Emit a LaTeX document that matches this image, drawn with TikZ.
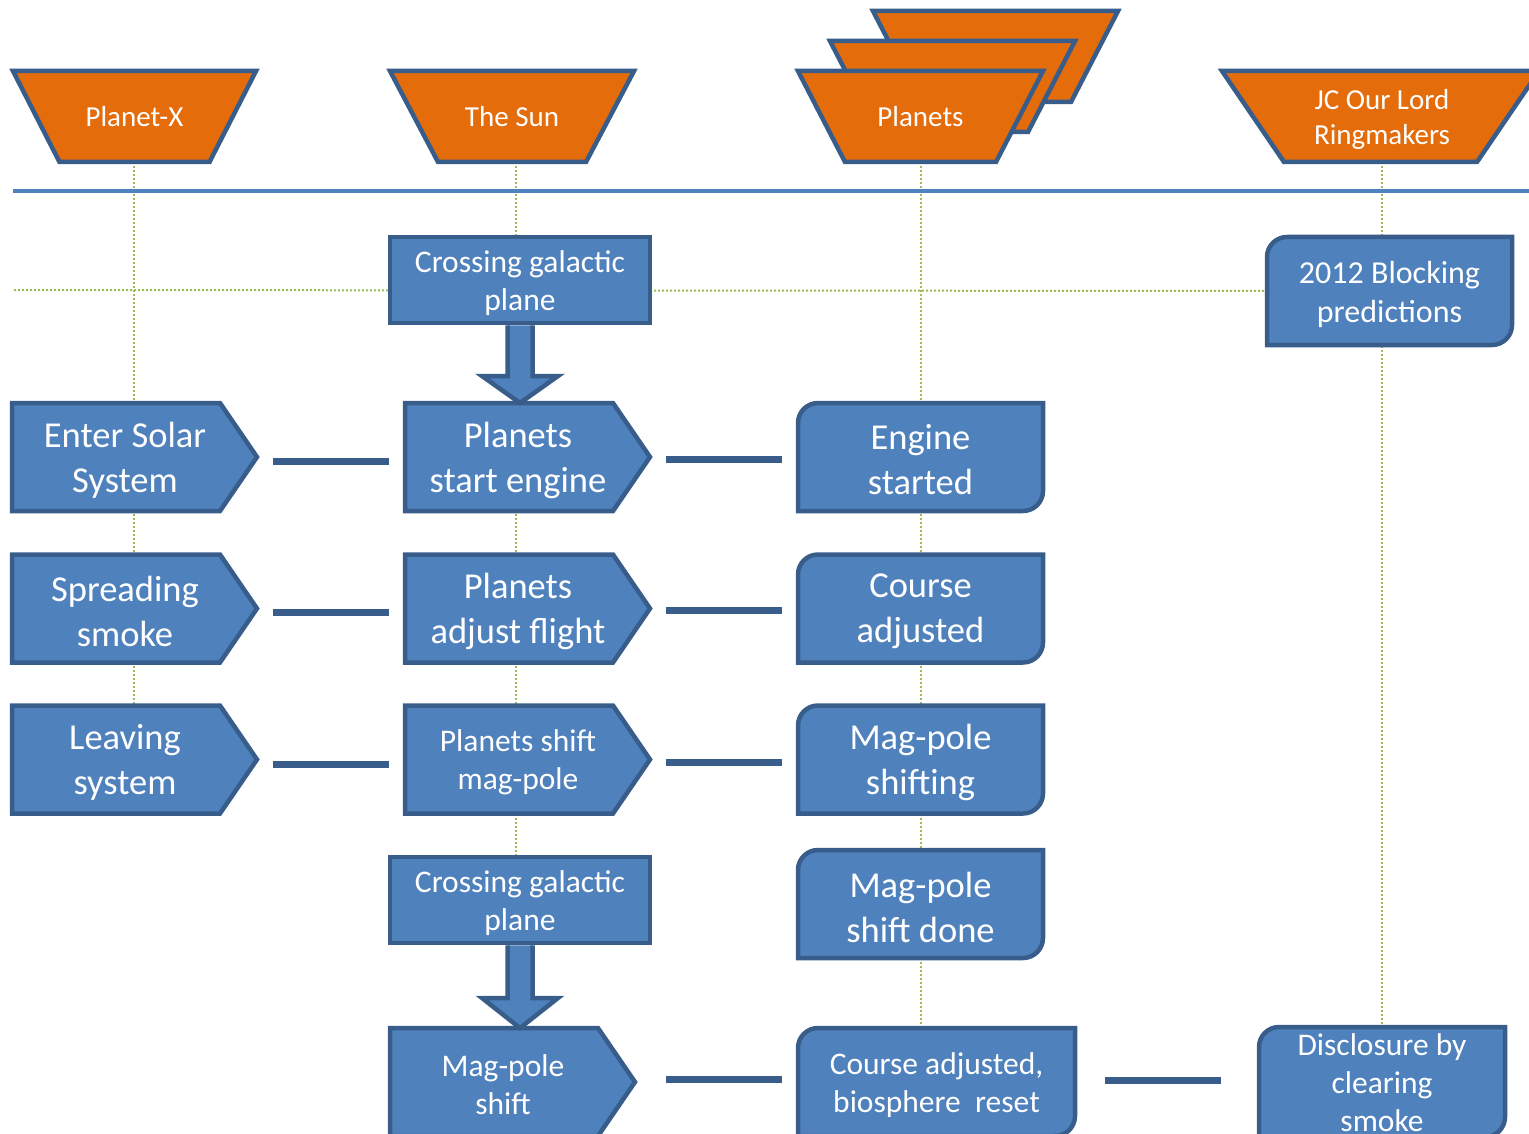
\documentclass[tikz,border=0pt]{standalone}
\usepackage{fontspec}
\setmainfont{Carlito}
\usetikzlibrary{calc,backgrounds}
\definecolor{boxblue}{HTML}{4F81BD}
\definecolor{edgeblue}{HTML}{385D8A}
\definecolor{hdrorange}{HTML}{E46C0A}
\definecolor{lanegreen}{HTML}{9BBB59}
\tikzset{
  shp/.style={fill=boxblue, draw=edgeblue, line width=4.5pt},
  hdrshp/.style={fill=hdrorange, draw=edgeblue, line width=4.5pt},
  area/.style={draw=none, inner sep=0pt, outer sep=0pt},
  bigf/.style={text=white, align=center, inner sep=0pt, yshift=-3pt, font=\fontsize{36.5}{45}\selectfont},
  midf/.style={text=white, align=center, inner sep=0pt, yshift=-3pt, font=\fontsize{31.5}{38}\selectfont},
  hdrf/.style={text=white, align=center, inner sep=0pt, font=\fontsize{29}{35}\selectfont},
  conn/.style={draw=edgeblue, line width=7pt},
  lane/.style={draw=lanegreen, line width=2pt, dash pattern=on 2pt off 2pt},
  rulel/.style={draw=boxblue, line width=4pt}
}
% pentagon (arrow) box: name, cx, cy, width, text style, text
\newcommand\pentbox[6]{%
  \node[area, minimum width=#4pt, minimum height=108pt] (#1) at (#2,#3) {};
  \draw[shp] (#1.north west) -- ([xshift=-37pt]#1.north east) -- (#1.east)
     -- ([xshift=-37pt]#1.south east) -- (#1.south west) -- cycle;
  \node[#5] (#1-t) at (#1.center) {#6};
}
% rounded-diagonal box: name, cx, cy, width, height, text style, text
\newcommand\rrbox[7]{%
  \node[area, minimum width=#4pt, minimum height=#5pt] (#1) at (#2,#3) {};
  \draw[shp] (#1.west) {[rounded corners=20pt] -- (#1.north west) -- (#1.north)}
     -- (#1.north east) -- (#1.east)
     {[rounded corners=20pt] -- (#1.south east) -- (#1.south)}
     -- (#1.south west) -- cycle;
  \node[#6] (#1-t) at (#1.center) {#7};
}
% plain rectangle box: name, cx, cy, width, height, text style, text
\newcommand\rectbx[7]{%
  \node[area, minimum width=#4pt, minimum height=#5pt] (#1) at (#2,#3) {};
  \draw[shp] (#1.north west) rectangle (#1.south east);
  \node[#6] (#1-t) at (#1.center) {#7};
}
% header trapezoid: name, cx, cy, top width, inset, text
\newcommand\hdrbox[7]{%
  \node[area, minimum width=#4pt, minimum height=91pt] (#1) at (#2,#3) {};
  \draw[hdrshp] (#1.north west) -- (#1.north east) -- ([xshift=-#5pt]#1.south east)
     -- ([xshift=#5pt]#1.south west) -- cycle;
  \node[hdrf, #6] (#1-t) at (#1.center) {#7};
}
\begin{document}
\begin{tikzpicture}[x=1pt, y=-1pt]
\useasboundingbox (0,0) rectangle (1529,1134);
\clip (0,0) rectangle (1529,1134);

% headers
\hdrbox{px}{134.5}{116.5}{243}{46.5}{}{Planet-X}
\hdrbox{sun}{512}{116.5}{244}{48}{}{The Sun}
\hdrbox{plb}{995.5}{56.5}{245}{47}{}{}
\hdrbox{plm}{952.5}{86.5}{245}{47}{}{}
\hdrbox{pl}{920.5}{116.5}{245}{47}{}{Planets}
\hdrbox{jc}{1380.5}{116.5}{317}{62}{xshift=1.5pt, yshift=-3pt}{JC Our Lord\\Ringmakers}

% top row
\rectbx{cgp1}{520}{280}{260}{86}{midf}{Crossing galactic\\plane}
\rrbox{bp}{1389.5}{291}{245}{108}{text=white, align=center, inner sep=0pt, yshift=-3pt, font=\fontsize{32}{39}\selectfont}{2012 Blocking\\predictions}

% row 2
\pentbox{es}{134.5}{457}{245}{bigf, xshift=-9.5pt}{Enter Solar\\System}
\pentbox{pse}{527.5}{457}{245}{bigf, xshift=-9.5pt}{Planets\\start engine}
\rrbox{est}{920.5}{457}{245}{108}{bigf}{Engine\\started}

% row 3
\pentbox{ss}{134.5}{608.5}{245}{bigf, xshift=-9.5pt}{Spreading\\smoke}
\pentbox{paf}{527.5}{608.5}{245}{bigf, xshift=-9.5pt}{Planets\\adjust flight}
\rrbox{ca}{920.5}{608.5}{245}{108}{bigf}{Course\\adjusted}

% row 4
\pentbox{ls}{134.5}{759.5}{245}{bigf, xshift=-9.5pt}{Leaving\\system}
\pentbox{psm}{527.5}{759.5}{245}{midf, xshift=-9.5pt}{Planets shift\\mag-pole}
\rrbox{mpsh}{920.5}{759.5}{245}{108}{bigf}{Mag-pole\\shifting}

% row 5
\rectbx{cgp2}{520}{900}{260}{86}{midf}{Crossing galactic\\plane}
\rrbox{mpsd}{920.5}{904}{245}{108}{bigf}{Mag-pole\\shift done}

% row 6
\pentbox{mps}{512.5}{1082}{245}{midf, xshift=-9.5pt}{Mag-pole\\shift}
\rrbox{cabr}{936.5}{1082}{277}{108}{midf}{Course adjusted,\\biosphere\ \ reset}
\rrbox{dcs}{1382}{1082}{246}{110}{midf, yshift=2pt}{Disclosure by\\clearing\\smoke}

% block arrows
\coordinate (a1tip) at (cgp1.south |- pse.north);
\filldraw[shp] ([shift={(-12.5pt,-2.3pt)}]cgp1.south) -- ([shift={(-12.5pt,27pt)}]a1tip)
  -- ([shift={(-38pt,27pt)}]a1tip) -- (a1tip) -- ([shift={(38pt,27pt)}]a1tip)
  -- ([shift={(12.5pt,27pt)}]a1tip) -- ([shift={(12.5pt,-2.3pt)}]cgp1.south);
\coordinate (a2tip) at (cgp2.south |- mps.north);
\filldraw[shp] ([shift={(-12.5pt,-2.3pt)}]cgp2.south) -- ([shift={(-12.5pt,30pt)}]a2tip)
  -- ([shift={(-38pt,30pt)}]a2tip) -- (a2tip) -- ([shift={(38pt,30pt)}]a2tip)
  -- ([shift={(12.5pt,30pt)}]a2tip) -- ([shift={(12.5pt,-2.3pt)}]cgp2.south);

% connectors
\draw[conn] ([shift={(16pt,-4pt)}]es.east) -- ([shift={(-16pt,-4pt)}]pse.west);
\draw[conn] ([shift={(16pt,-2pt)}]pse.east) -- ([shift={(-16pt,-2pt)}]est.west);
\draw[conn] ([shift={(16pt,-3.5pt)}]ss.east) -- ([shift={(-16pt,-3.5pt)}]paf.west);
\draw[conn] ([shift={(16pt,-1.5pt)}]paf.east) -- ([shift={(-16pt,-1.5pt)}]ca.west);
\draw[conn] ([shift={(16pt,-4.5pt)}]ls.east) -- ([shift={(-16pt,-4.5pt)}]psm.west);
\draw[conn] ([shift={(16pt,-2.5pt)}]psm.east) -- ([shift={(-16pt,-2.5pt)}]mpsh.west);
\draw[conn] ([shift={(31pt,3pt)}]mps.east) -- ([shift={(-16pt,3pt)}]cabr.west);
\draw[conn] ([shift={(30pt,2pt)}]cabr.east) -- ([shift={(-38pt,2pt)}]dcs.west);

% swimlane guides and rule (behind)
\begin{scope}[on background layer]
  \coordinate (hl) at (14,290);
  \coordinate (rl) at (13,191);
  \coordinate (rr) at (1529,191);
  \draw[lane] ([xshift=-0.5pt]px.south) -- ([xshift=-0.5pt]ls.north);
  \draw[lane] ([xshift=4pt]sun.south) -- ([xshift=-4pt]cgp2.north);
  \draw[lane] (pl.south) -- (pl.south |- cabr.north);
  \draw[lane] (dcs.north |- jc.south) -- (dcs.north);
  \draw[lane] (hl) -- (bp.west);
  \draw[rulel] (rl) -- (rr);
\end{scope}
\end{tikzpicture}
\end{document}
